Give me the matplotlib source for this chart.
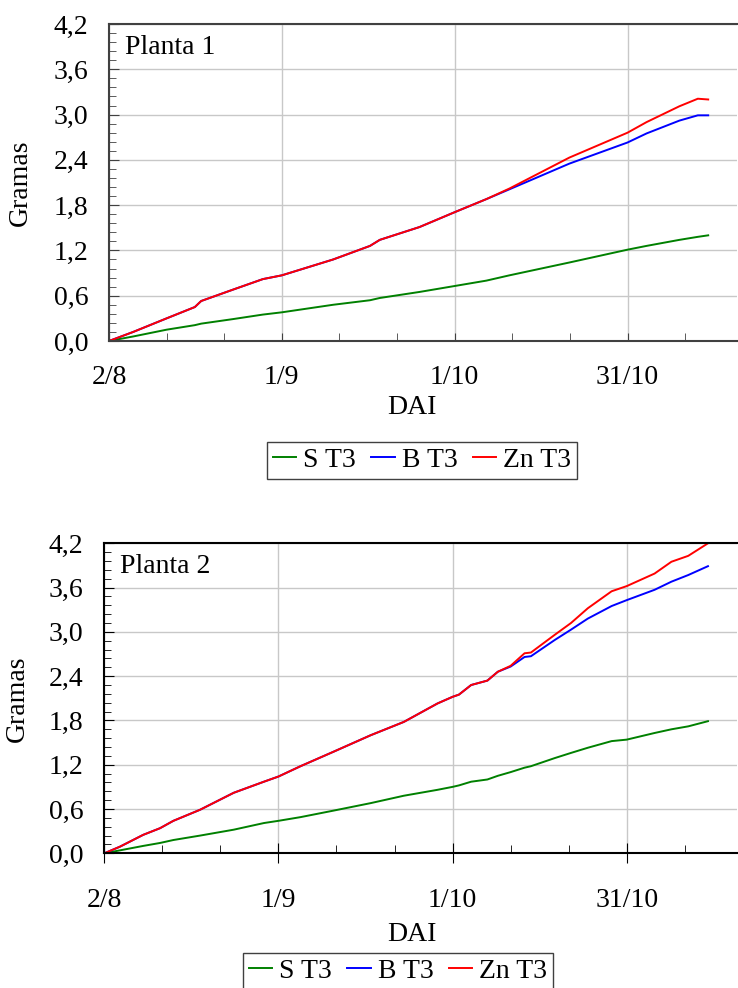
import matplotlib
matplotlib.use("Agg")
import matplotlib.pyplot as plt
from matplotlib.ticker import MultipleLocator

plt.rcParams['font.family'] = ['Liberation Serif', 'DejaVu Serif']
plt.rcParams['font.size'] = 20

# days after 2/8
tick_days = [0, 30, 60, 90]
tick_labels = ['2/8', '1/9', '1/10', '31/10']

# Planta 1
days_p1 = [0, 4.2, 10, 14.9, 16, 21.5, 26.7, 30, 38.9, 45.3, 47, 53.9, 60.1,
           65.5, 69.5, 79.9, 90, 93.3, 99, 102.2, 104]
s_p1 = [0, 0.06, 0.15, 0.21, 0.23, 0.29, 0.35, 0.38, 0.48, 0.54, 0.57, 0.65,
        0.73, 0.80, 0.87, 1.04, 1.21, 1.26, 1.34, 1.38, 1.40]
b_p1 = [0, 0.12, 0.30, 0.45, 0.53, 0.68, 0.82, 0.87, 1.08, 1.26, 1.34, 1.51,
        1.71, 1.88, 2.01, 2.35, 2.63, 2.75, 2.92, 2.99, 2.99]
zn_p1 = [0, 0.12, 0.30, 0.45, 0.53, 0.68, 0.82, 0.87, 1.08, 1.26, 1.34, 1.51,
         1.71, 1.88, 2.02, 2.43, 2.76, 2.90, 3.11, 3.21, 3.20]

# Planta 2
days_p2 = [0, 2.7, 6.7, 9.6, 11.9, 16.5, 22.3, 27.5, 30, 33.8, 39.6, 45.9,
           51.6, 57.4, 60, 61.1, 63.2, 66, 67.8, 70, 72.4, 73.5, 77.6, 80.4,
           83.3, 87.4, 90, 94.8, 97.7, 100.6, 104]
s_p2 = [0, 0.04, 0.10, 0.14, 0.18, 0.24, 0.32, 0.41, 0.44, 0.49, 0.58, 0.68,
        0.78, 0.86, 0.90, 0.92, 0.97, 1.00, 1.05, 1.10, 1.16, 1.18, 1.29, 1.36,
        1.43, 1.52, 1.54, 1.63, 1.68, 1.72, 1.79]
b_p2 = [0, 0.09, 0.25, 0.34, 0.44, 0.59, 0.82, 0.97, 1.04, 1.18, 1.38, 1.60,
        1.78, 2.03, 2.12, 2.15, 2.28, 2.34, 2.46, 2.53, 2.66, 2.67, 2.89, 3.03,
        3.18, 3.35, 3.43, 3.57, 3.68, 3.77, 3.89]
zn_p2 = [0, 0.09, 0.25, 0.34, 0.44, 0.59, 0.82, 0.97, 1.04, 1.18, 1.38, 1.60,
         1.78, 2.03, 2.12, 2.15, 2.28, 2.34, 2.46, 2.54, 2.71, 2.72, 2.96, 3.12,
         3.32, 3.55, 3.62, 3.79, 3.95, 4.03, 4.20]

series_names = ['S T3', 'B T3', 'Zn T3']
colors = ['#008000', '#0000ff', '#ff0000']

W, H = 738, 988
fig = plt.figure(figsize=(W / 100, H / 100), dpi=100)


def px_axes(left, top, right, bottom):
    return fig.add_axes([left / W, 1 - bottom / H, (right - left) / W, (bottom - top) / H])


def style(ax, title, spine_color, major_out):
    ax.set_xlim(0, 109)
    ax.set_ylim(0, 4.2)
    ax.yaxis.set_major_locator(MultipleLocator(0.6))
    ax.yaxis.set_minor_locator(MultipleLocator(0.12))
    ax.set_yticklabels([f'{v:.1f}'.replace('.', ',') for v in ax.get_yticks()])
    ax.set_xticks(tick_days)
    ax.set_xticklabels(tick_labels)
    ax.xaxis.set_minor_locator(MultipleLocator(10))
    ax.grid(True, which='major', color='#c8c8c8', lw=1)
    ax.set_axisbelow(True)
    for s in ['left', 'top', 'bottom']:
        ax.spines[s].set_color(spine_color)
        ax.spines[s].set_linewidth(1.5)
    ax.spines['right'].set_visible(False)
    ax.tick_params(axis='y', which='both', direction='in', color=spine_color, pad=15)
    ax.tick_params(axis='y', which='major', length=7)
    ax.tick_params(axis='y', which='minor', length=5)
    ax.tick_params(axis='x', which='minor', direction='in', length=6, color=spine_color)
    if major_out:
        ax.tick_params(axis='x', which='major', direction='inout', length=14, pad=18, color=spine_color)
    else:
        ax.tick_params(axis='x', which='major', direction='in', length=6, pad=17, color=spine_color)
    ax.set_ylabel('Gramas', fontsize=20)
    ax.set_xlabel('DAI', fontsize=20, labelpad=0)
    ax.text(0.025, 0.965, title, transform=ax.transAxes, ha='left', va='top', fontsize=20)


def add_legend(ax, x, y):
    ax.legend(loc='upper left', bbox_to_anchor=(x / W, 1 - y / H), bbox_transform=fig.transFigure,
              ncol=3, fancybox=False, edgecolor='#404040', framealpha=1, handlelength=0.85,
              handletextpad=0.25, columnspacing=0.55, borderpad=0.2, fontsize=20,
              borderaxespad=0)


ax1 = px_axes(109, 24, 737, 341)
for y, c, n in zip([s_p1, b_p1, zn_p1], colors, series_names):
    ax1.plot(days_p1, y, color=c, lw=1.4, label=n)
style(ax1, 'Planta 1', '#404040', False)
ax1.xaxis.set_label_coords(0.482, -0.17)
ax1.yaxis.set_label_coords(-0.121, 0.5)
add_legend(ax1, 267, 442)

ax2 = px_axes(104.3, 543.3, 737, 853.3)
for y, c, n in zip([s_p2, b_p2, zn_p2], colors, series_names):
    ax2.plot(days_p2, y, color=c, lw=1.4, label=n)
style(ax2, 'Planta 2', 'black', True)
ax2.xaxis.set_label_coords(0.486, -0.22)
ax2.yaxis.set_label_coords(-0.117, 0.5)
add_legend(ax2, 243, 953)

fig.savefig('out.png', dpi=100)
